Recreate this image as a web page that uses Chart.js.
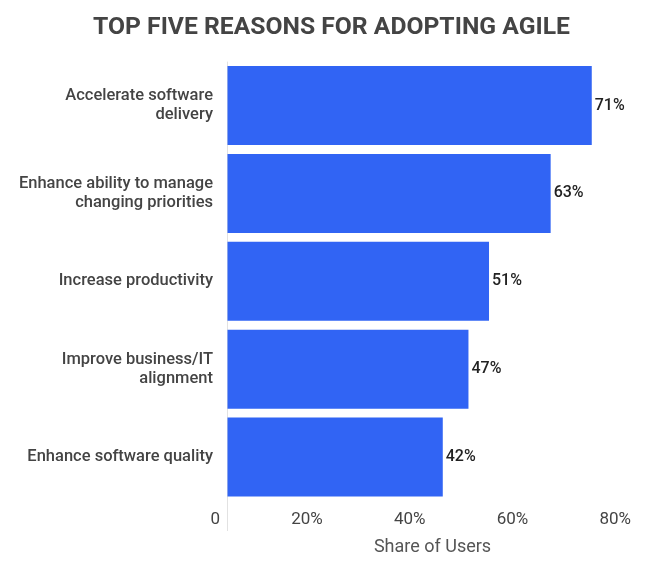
<!DOCTYPE html>
<html>
<head>
<meta charset="utf-8">
<title>Top five reasons for adopting Agile</title>
<script src="https://cdn.jsdelivr.net/npm/chart.js"></script>
<style>
    html, body { margin: 0; padding: 0; background: #fff; }
    #wrap { width: 663px; height: 585px; position: relative; }
</style>
</head>
<body>
<div id="wrap"><canvas id="agileChart"></canvas></div>
<script>
// Chart data
var reasons = [
    ['Accelerate software', 'delivery'],
    ['Enhance ability to manage', 'changing priorities'],
    'Increase productivity',
    ['Improve business/IT', 'alignment'],
    'Enhance software quality'
];
var shareOfUsers = [71, 63, 51, 47, 42];
var tickLabels = ['0', '20%', '40%', '60%', '80%'];

// Draws the "71%" style labels just past the end of each bar
const valueLabelPlugin = {
    id: 'valueLabels',
    afterDatasetsDraw: (chart) => {
        const ctx = chart.ctx;
        const meta = chart.getDatasetMeta(0);
        ctx.save();
        ctx.font = '500 16px Roboto';
        ctx.fillStyle = '#222';
        ctx.textAlign = 'left';
        ctx.textBaseline = 'middle';
        meta.data.forEach((bar, i) => {
            ctx.fillText(shareOfUsers[i] + '%', bar.x + 3, bar.y);
        });
        ctx.restore();
    }
};

var agileCtx = document.getElementById('agileChart').getContext('2d');
var agileChart = new Chart(agileCtx, {
    type: 'bar',
    data: {
        labels: reasons,
        datasets: [{
            data: shareOfUsers,
            backgroundColor: '#3164f4',
            borderWidth: 0,
            categoryPercentage: 0.9,
            barPercentage: 1
        }]
    },
    plugins: [valueLabelPlugin],
    options: {
        indexAxis: 'y',
        responsive: true,
        maintainAspectRatio: false,
        animation: false,
        layout: {
            padding: { left: 0, right: 0, top: 0, bottom: 27 }
        },
        scales: {
            x: {
                min: 0,
                max: 80,
                border: { display: false },
                grid: {
                    // only the zero line is visible, running a little below the bars
                    color: (c) => c.index === 0 ? '#e2e2e2' : 'transparent',
                    lineWidth: 1,
                    tickLength: 30
                },
                ticks: {
                    stepSize: 20,
                    align: 'end',
                    labelOffset: -7,
                    padding: -21,
                    color: '#444',
                    font: { family: 'Roboto', size: 17 },
                    callback: (value, index) => tickLabels[index]
                },
                title: {
                    display: true,
                    text: 'Share of Users',
                    color: '#555',
                    padding: { top: 27, bottom: 0 },
                    font: { family: 'Roboto', size: 18 }
                }
            },
            y: {
                border: { display: false },
                grid: { display: false, drawTicks: false },
                ticks: {
                    padding: 14,
                    color: '#444',
                    font: { family: 'Roboto', size: 16.5, weight: '500', lineHeight: 1.15 }
                },
                afterFit: (scale) => {
                    scale.width = 227;
                }
            },
            // empty right-hand strip so the plot ends before the canvas edge
            // while the chart title stays centred on the whole canvas
            spacer: {
                type: 'category',
                position: 'right',
                border: { display: false },
                grid: { display: false, drawTicks: false },
                ticks: { display: false },
                afterFit: (scale) => {
                    scale.width = 25;
                }
            }
        },
        plugins: {
            legend: { display: false },
            tooltip: { enabled: false },
            title: {
                display: true,
                text: 'TOP FIVE REASONS FOR ADOPTING AGILE',
                color: '#444',
                padding: { top: 13.5, bottom: 18.5 },
                font: { family: 'Roboto', size: 24.7, weight: 'bold' }
            }
        }
    }
});
</script>
</body>
</html>
